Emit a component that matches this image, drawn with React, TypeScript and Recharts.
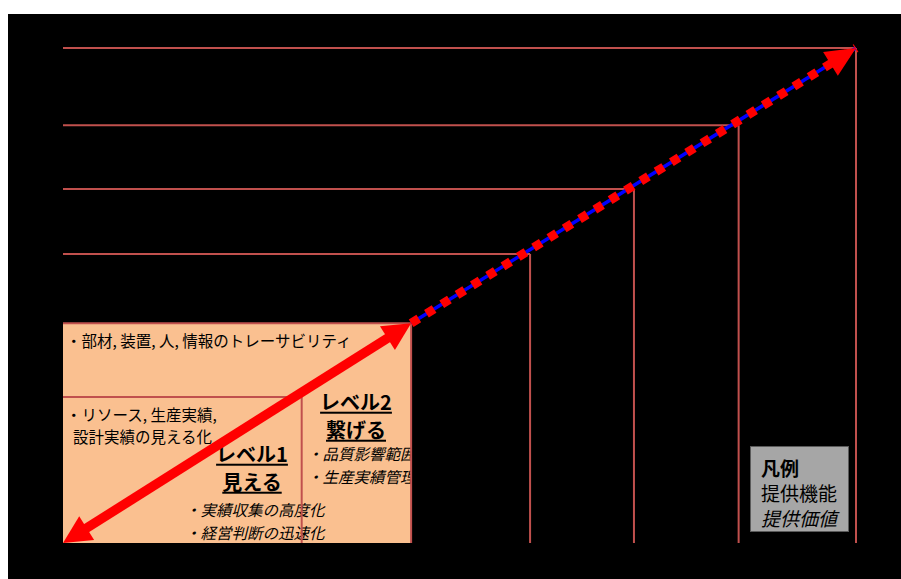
import React from "react";
import { ComposedChart, XAxis, YAxis, Line, ReferenceArea, ReferenceLine, Label, Legend } from "recharts";

const FONT = '"Noto Sans CJK JP", "Noto Sans", sans-serif';

// level reach: x = breadth of provided functions, y = provided value (0-100)
const levelReach = [30.1, 43.9, 58.9, 72.0, 85.2, 100];
const levelValue = [29.5, 44.4, 58.4, 71.5, 84.4, 100];

const level1Title = ["レベル1", "見える"];
const level1Functions = ["・リソース, 生産実績,", "設計実績の見える化"];
const level1Values = ["・実績収集の高度化", "・経営判断の迅速化"];

const level2Title = ["レベル2", "繋げる"];
const level2Functions = ["・部材, 装置, 人, 情報のトレーサビリティ"];
const level2Values = ["・品質影響範囲の特定", "・生産実績管理の高度化"];

const legendItems = ["凡例", "提供機能", "提供価値"];

const reachedPath = [
  { x: 0, y: 0 },
  { x: levelReach[1], y: levelValue[1] },
];
const roadmapPath = [
  { x: levelReach[1], y: levelValue[1] },
  { x: levelReach[5], y: levelValue[5] },
];

const LINE = "#c0504d";
const PEACH = "#fac090";

function headPoints(tx: number, ty: number, ux: number, uy: number, len: number, half: number) {
  const bx = tx - ux * len;
  const by = ty - uy * len;
  return `${tx},${ty} ${bx - uy * half},${by + ux * half} ${bx + uy * half},${by - ux * half}`;
}

// thick red double-headed arrow (level 1 -> level 2)
function DoubleArrow(props: any) {
  const { x1, y1, x2, y2 } = props;
  const d = Math.hypot(x2 - x1, y2 - y1);
  const ux = (x2 - x1) / d;
  const uy = (y2 - y1) / d;
  const L = 28;
  return (
    <g>
      <line
        x1={x1 + ux * L * 0.8}
        y1={y1 + uy * L * 0.8}
        x2={x2 - ux * L * 0.8}
        y2={y2 - uy * L * 0.8}
        stroke="#ff0000"
        strokeWidth={9.5}
      />
      <polygon points={headPoints(x2, y2, ux, uy, L, 14)} fill="#ff0000" />
      <polygon points={headPoints(x1, y1, -ux, -uy, L, 14)} fill="#ff0000" />
    </g>
  );
}

// arrow head at the end of the roadmap
function EndHead(props: any) {
  const { x1, y1, x2, y2 } = props;
  const d = Math.hypot(x2 - x1, y2 - y1);
  return <polygon points={headPoints(x2, y2, (x2 - x1) / d, (y2 - y1) / d, 30, 14)} fill="#ff0000" />;
}

function BoxTexts({ viewBox }: any) {
  const { x, y } = viewBox;
  const t = (dx: number, dy: number, s: string, o: any = {}) => (
    <text
      key={s}
      x={x + dx}
      y={y + dy}
      dominantBaseline="central"
      fontFamily={FONT}
      fontSize={o.size || 15.5}
      fontWeight={o.bold ? 700 : 400}
      fontStyle={o.italic ? "italic" : "normal"}
      textAnchor={o.anchor || "start"}
      style={o.underline ? { textDecoration: "underline" } : undefined}
      fill="#000"
    >
      {s}
    </text>
  );
  const title = { size: 20, bold: true, underline: true, anchor: "middle" };
  return (
    <g>
      {t(3, 17, level2Functions[0])}
      {t(3, 90.5, level1Functions[0])}
      {t(10, 113, level1Functions[1])}
      {t(189, 130, level1Title[0], title)}
      {t(189, 158, level1Title[1], title)}
      {t(122, 186, level1Values[0], { italic: true })}
      {t(122, 209, level1Values[1], { italic: true })}
      {t(293, 78, level2Title[0], title)}
      {t(293, 106, level2Title[1], title)}
      {t(244, 130, level2Values[0], { italic: true })}
      {t(244, 152.5, level2Values[1], { italic: true })}
    </g>
  );
}

function LegendBox() {
  return (
    <div
      style={{
        width: 99,
        height: 86,
        boxSizing: "border-box",
        background: "#a6a6a6",
        border: "1px solid #5a5a5a",
        padding: "8px 0 0 10px",
        fontFamily: FONT,
        fontSize: 19,
        lineHeight: "25px",
        color: "#000",
        textAlign: "left",
      }}
    >
      <div style={{ fontWeight: 700 }}>{legendItems[0]}</div>
      <div>{legendItems[1]}</div>
      <div style={{ fontStyle: "italic" }}>{legendItems[2]}</div>
    </div>
  );
}

export default function App() {
  return (
    <div style={{ position: "absolute", left: 8, top: 14, width: 893, height: 565, background: "#000" }}>
      <ComposedChart width={893} height={565} margin={{ top: 34, right: 45, bottom: 36, left: 55 }}>
        <XAxis type="number" dataKey="x" domain={[0, 100]} hide />
        <YAxis type="number" domain={[0, 100]} hide />
        <ReferenceArea x1={0} x2={levelReach[1]} y1={0} y2={levelValue[1]} fill={PEACH} fillOpacity={1} stroke="none" />
        {levelReach.map((r, i) => (
          <ReferenceLine
            key={"top" + i}
            segment={[{ x: 0, y: levelValue[i] }, { x: r, y: levelValue[i] }]}
            stroke={LINE}
            strokeWidth={2}
          />
        ))}
        {levelReach.map((r, i) => (
          <ReferenceLine
            key={"side" + i}
            segment={[{ x: r, y: 0 }, { x: r, y: levelValue[i] }]}
            stroke={LINE}
            strokeWidth={2}
          />
        ))}
        <Line data={roadmapPath} dataKey="y" stroke="#0000ff" strokeWidth={3.5} dot={false} legendType="none" isAnimationActive={false} />
        <Line data={roadmapPath} dataKey="y" stroke="#ff0000" strokeWidth={9} strokeDasharray="9 9" dot={false} legendType="none" isAnimationActive={false} />
        <ReferenceLine segment={reachedPath} shape={DoubleArrow} />
        <ReferenceLine segment={roadmapPath} shape={EndHead} />
        <ReferenceArea x1={0} x2={levelReach[1]} y1={0} y2={levelValue[1]} fillOpacity={0} stroke="none">
          <Label content={BoxTexts} />
        </ReferenceArea>
        <Legend verticalAlign="middle" align="center" layout="horizontal" content={LegendBox} wrapperStyle={{ left: 742, top: 432, width: 99, height: 86 }} />
      </ComposedChart>
    </div>
  );
}
